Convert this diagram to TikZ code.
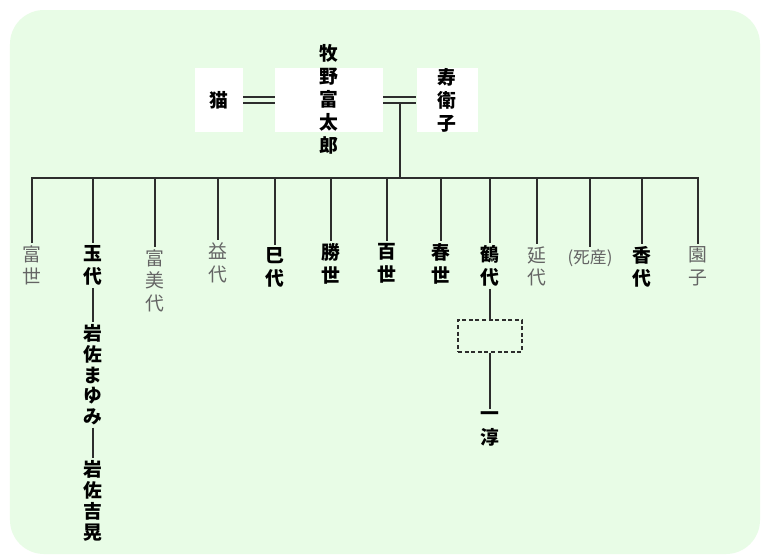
\documentclass[tikz,border=0pt]{standalone}
\usepackage{fontspec}
\setmainfont{Noto Sans CJK JP}
\definecolor{bgGreen}{RGB}{232,252,230}
\definecolor{lineGray}{RGB}{45,45,45}
\definecolor{nameGray}{RGB}{100,100,100}
\tikzset{
  famline/.style={draw=lineGray,line width=1pt},
  marriage/.style={famline,line width=1pt,double=bgGreen,double distance=2pt},
  whitebox/.style={fill=white,minimum height=32pt,inner sep=0pt},
  dashbox/.style={draw=lineGray,line width=0.7pt,dash pattern=on 2pt off 1.3pt,minimum width=32pt,minimum height=16pt,inner sep=0pt},
  vname/.style={align=center,inner sep=1.2pt,font=\fontsize{9.4}{11.2}\selectfont},
  boldname/.style={vname,text=black,font=\fontsize{9.4}{11.2}\selectfont\bfseries},
  grayname/.style={vname,text=nameGray},
  child/.style={anchor=north}
}

\begin{document}
\begin{tikzpicture}[x=0.5pt,y=-0.5pt]
  \useasboundingbox (0,0) rectangle (768,558);
  % Background
  \fill[white] (0,0) rectangle (768,558);
  \fill[bgGreen,rounded corners=17pt] (10,10) rectangle (760,554);

  % Parents
  \node[whitebox,minimum width=24pt] (nekoBox) at (219,100) {};
  \node[whitebox,minimum width=54pt] (makinoBox) at (329,100) {};
  \node[whitebox,minimum width=30.5pt] (jueBox) at (447,100) {};
  \node[boldname] (neko) at (219,100) {猫};
  \node[boldname,font=\fontsize{9.4}{11.5}\selectfont\bfseries] (makino) at (329,99) {牧\\野\\富\\太\\郎};
  \node[boldname,font=\fontsize{9.4}{11.5}\selectfont\bfseries] (jue) at (447,100) {寿\\衛\\子};
  \draw[marriage] (nekoBox.east) -- (makinoBox.west);
  \draw[marriage] (makinoBox.east) -- (jueBox.west);
  \coordinate (wed) at (400,104);
  \coordinate (bar) at (400,178);
  \draw[famline] (wed) -- (bar);

  % Children
  \node[grayname,child] (tomiyo) at (32,243) {富\\世};
  \node[boldname,child] (tamayo) at (93,243) {玉\\代};
  \node[grayname,child] (fumiyo) at (155,247) {富\\美\\代};
  \node[grayname,child] (masuyo) at (218,240) {益\\代};
  \node[boldname,child] (miyo) at (275,245) {巳\\代};
  \node[boldname,child] (katsuyo) at (331,241) {勝\\世};
  \node[boldname,child] (momoyo) at (387,241) {百\\世};
  \node[boldname,child] (haruyo) at (441,241) {春\\世};
  \node[boldname,child] (tsuruyo) at (490,243) {鶴\\代};
  \node[grayname,child] (nobuyo) at (537,244) {延\\代};
  \node[grayname,child,font=\fontsize{8.4}{10}\selectfont] (shizan) at (590,247) {(死産)};
  \node[boldname,child] (kayo) at (642,244) {香\\代};
  \node[grayname,child] (sonoko) at (698,244) {園\\子};
  \draw[famline] (tomiyo.north) |- (sonoko.north |- bar) -- (sonoko.north);
  \draw[famline] (tamayo.north |- bar) -- (tamayo.north);
  \draw[famline] (fumiyo.north |- bar) -- (fumiyo.north);
  \draw[famline] (masuyo.north |- bar) -- (masuyo.north);
  \draw[famline] (miyo.north |- bar) -- (miyo.north);
  \draw[famline] (katsuyo.north |- bar) -- (katsuyo.north);
  \draw[famline] (momoyo.north |- bar) -- (momoyo.north);
  \draw[famline] (haruyo.north |- bar) -- (haruyo.north);
  \draw[famline] (tsuruyo.north |- bar) -- (tsuruyo.north);
  \draw[famline] (nobuyo.north |- bar) -- (nobuyo.north);
  \draw[famline] (shizan.north |- bar) -- (shizan.north);
  \draw[famline] (kayo.north |- bar) -- (kayo.north);

  % Grandchildren
  \node[boldname,child,font=\fontsize{9.4}{10.3}\selectfont\bfseries] (mayumi) at (93,322) {岩\\佐\\ま\\ゆ\\み};
  \node[boldname,child,font=\fontsize{9.4}{10.5}\selectfont\bfseries] (yoshiaki) at (93,458) {岩\\佐\\吉\\晃};
  \draw[famline] (tamayo.south) -- (mayumi.north);
  \draw[famline] (mayumi.south) -- (yoshiaki.north);
  \node[dashbox] (spouseBox) at (490,336) {};
  \node[boldname,child,font=\fontsize{9.4}{12}\selectfont\bfseries] (jun) at (490,409) {一\\淳};
  \draw[famline] (tsuruyo.south) -- (spouseBox.north);
  \draw[famline] (spouseBox.south) -- (jun.north);
\end{tikzpicture}
\end{document}
